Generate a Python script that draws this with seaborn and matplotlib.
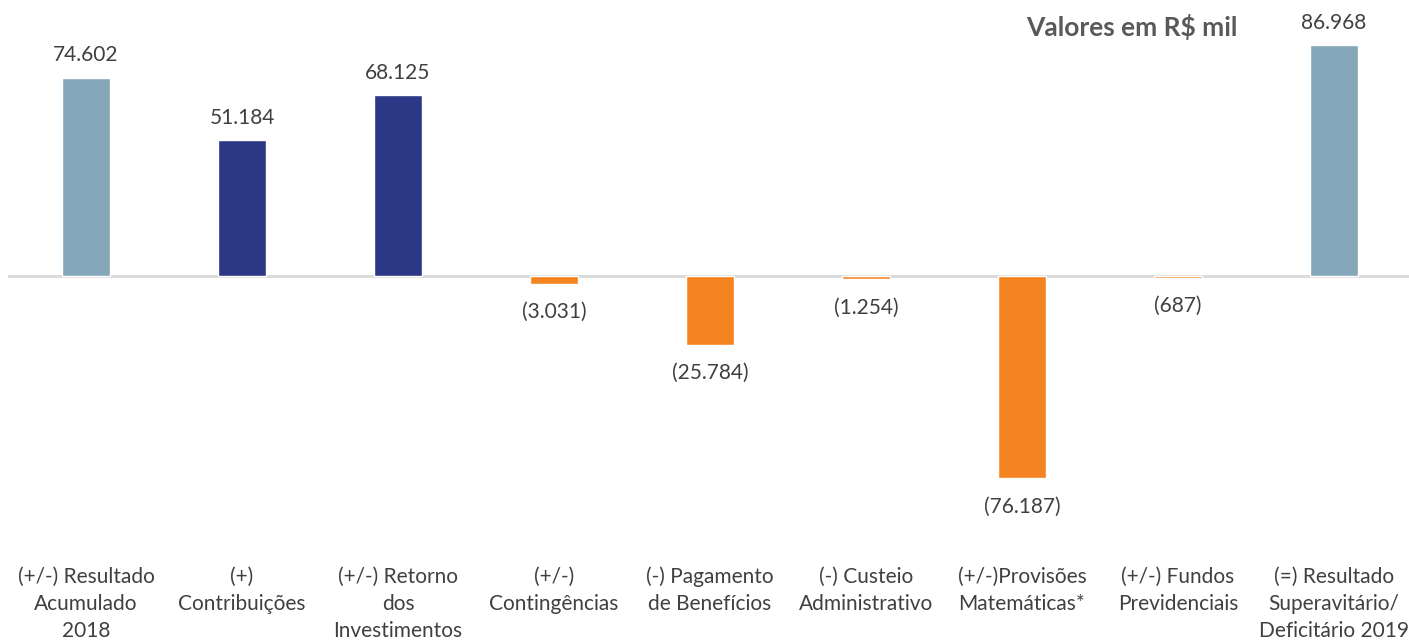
"""
Resultado acumulado 2018 -> 2019, grafico de barras (valores em R$ mil)
"""

import matplotlib
matplotlib.use("Agg")
import matplotlib.pyplot as plt
import seaborn as sns

CATEGORIES = [
    "(+/-) Resultado\nAcumulado\n2018",
    "(+)\nContribuições",
    "(+/-) Retorno\ndos\nInvestimentos",
    "(+/-)\nContingências",
    "(-) Pagamento\nde Benefícios",
    "(-) Custeio\nAdministrativo",
    "(+/-)Provisões\nMatemáticas*",
    "(+/-) Fundos\nPrevidenciais",
    "(=) Resultado\nSuperavitário/\nDeficitário 2019",
]
VALUES = [74602, 51184, 68125, -3031, -25784, -1254, -76187, -687, 86968]
BAR_COLORS = ["#84A7BA", "#2C3785", "#2C3785", "#F48421", "#F48421",
              "#F48421", "#F48421", "#F48421", "#84A7BA"]

TEXT_COLOR = "#404040"

sns.set_theme(style="white")
plt.rcParams["font.family"] = ["Lato", "DejaVu Sans"]


def fmt(v):
    v = int(round(v))
    s = f"{abs(v):,}".replace(",", ".")
    return f"({s})" if v < 0 else s


fig = plt.figure(figsize=(14.09, 6.43), dpi=100)
ax = fig.add_axes([8 / 1409, 1 - 540 / 643, 1404 / 1409, 530 / 643])

sns.barplot(x=CATEGORIES, y=VALUES, hue=CATEGORIES, palette=BAR_COLORS,
            legend=False, width=0.31, saturation=1, ax=ax, zorder=2)

for cont in ax.containers:
    for bar in cont:
        h = bar.get_height()
        x = bar.get_x() + bar.get_width() / 2
        ax.annotate(fmt(h), (x, h), textcoords="offset points",
                    xytext=(0, 9 if h >= 0 else -13),
                    ha="center", va="bottom" if h >= 0 else "top",
                    fontsize=15, color=TEXT_COLOR)

ax.axhline(0, color="#D9D9D9", linewidth=2, zorder=1)
ax.set_xlim(-0.5, 8.5)
ax.set_ylim(-99400, 100200)
ax.set_yticks([])
ax.set_xlabel("")
ax.set_ylabel("")
ax.tick_params(axis="x", length=0, pad=19, labelsize=15, labelcolor=TEXT_COLOR)
for lbl in ax.get_xticklabels():
    lbl.set_linespacing(1.45)
sns.despine(ax=ax, left=True, bottom=True)

fig.text(1238 / 1409, 1 - 27 / 643, "Valores em R$ mil", ha="right", va="center",
         fontsize=19, fontweight="bold", color="#595959")

plt.savefig("out.png", dpi=100)
plt.close()
